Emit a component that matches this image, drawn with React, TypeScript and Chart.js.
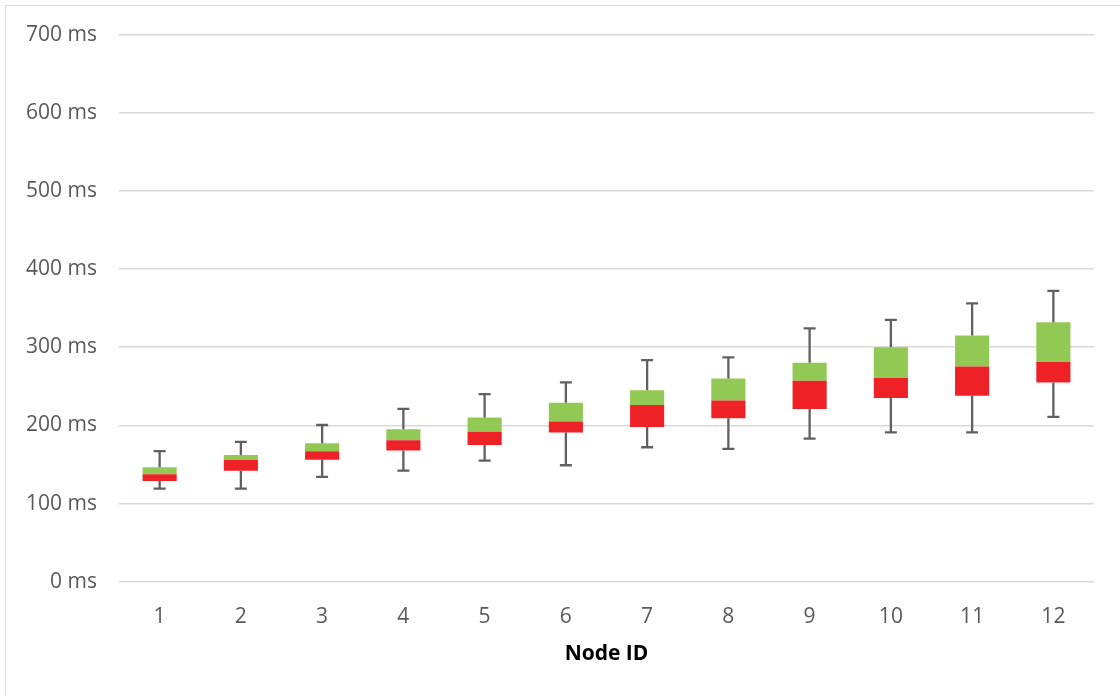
import React, { useEffect, useRef } from "react";
import { Chart, registerables } from "chart.js";

Chart.register(...registerables);

const categories = ["1", "2", "3", "4", "5", "6", "7", "8", "9", "10", "11", "12"];
const minValues = [119, 119, 134, 142, 155, 149, 172, 170, 183, 191, 191, 211];
const q1Values = [129, 142, 156, 168, 175, 191, 198, 209, 221, 235, 238, 255];
const medianValues = [137.5, 156, 167, 181, 192, 205, 226, 232, 257, 260.5, 275.5, 281];
const q3Values = [146.5, 162, 177, 195, 210, 229, 245, 260, 280, 300, 315, 332];
const maxValues = [167, 179, 200.5, 221, 240, 255, 283.5, 287, 324, 335, 356, 372];

const yTicks = [0, 100, 200, 300, 400, 500, 600, 700];
const xTitle = "Node ID";
const unit = " ms";

const whiskerPlugin = {
  id: "whiskers",
  afterDatasetsDraw(chart: any) {
    const { ctx, scales } = chart;
    const x = scales.x;
    const y = scales.y;
    ctx.save();
    ctx.strokeStyle = "#606060";
    ctx.lineWidth = 2.3;
    const cap = 6;
    categories.forEach((_, i) => {
      const cx = x.getPixelForValue(i);
      const yMin = y.getPixelForValue(minValues[i]);
      const yQ1 = y.getPixelForValue(q1Values[i]);
      const yQ3 = y.getPixelForValue(q3Values[i]);
      const yMax = y.getPixelForValue(maxValues[i]);
      ctx.beginPath();
      ctx.moveTo(cx, yQ3);
      ctx.lineTo(cx, yMax);
      ctx.moveTo(cx - cap, yMax);
      ctx.lineTo(cx + cap, yMax);
      ctx.moveTo(cx, yQ1);
      ctx.lineTo(cx, yMin);
      ctx.moveTo(cx - cap, yMin);
      ctx.lineTo(cx + cap, yMin);
      ctx.stroke();
    });
    ctx.restore();
  },
};

export default function App() {
  const canvasRef = useRef<HTMLCanvasElement | null>(null);

  useEffect(() => {
    if (!canvasRef.current) return;
    const chart = new Chart(canvasRef.current, {
      type: "bar",
      data: {
        labels: categories,
        datasets: [
          {
            label: "Q1-Median",
            data: categories.map((_, i) => [q1Values[i], medianValues[i]]) as any,
            backgroundColor: "#EE2126",
            borderWidth: 0,
            grouped: false,
            categoryPercentage: 1,
            barPercentage: 0.42,
          } as any,
          {
            label: "Median-Q3",
            data: categories.map((_, i) => [medianValues[i], q3Values[i]]) as any,
            backgroundColor: "#92C954",
            borderWidth: 0,
            grouped: false,
            categoryPercentage: 1,
            barPercentage: 0.42,
          } as any,
        ],
      },
      options: {
        animation: false,
        responsive: true,
        maintainAspectRatio: false,
        layout: { padding: { top: 33, right: 26, left: 0, bottom: 0 } },
        plugins: {
          legend: { display: false },
          tooltip: { enabled: false },
        },
        scales: {
          x: {
            grid: { display: false, drawTicks: false },
            border: { display: false },
            ticks: {
              color: "#595959",
              padding: 23,
              font: { family: "'Open Sans', sans-serif", size: 21 },
            },
            title: {
              display: true,
              text: xTitle,
              color: "#000000",
              padding: { top: 0, bottom: 29 },
              font: { family: "'Open Sans', sans-serif", size: 21, weight: "bold" },
            },
            afterFit: (scale: any) => {
              scale.height = 114.3;
            },
          },
          y: {
            min: yTicks[0],
            max: yTicks[yTicks.length - 1],
            afterBuildTicks: (scale: any) => {
              scale.ticks = yTicks.map((v) => ({ value: v }));
            },
            grid: { color: "#D9D9D9", lineWidth: 1.6, drawTicks: false },
            border: { display: false },
            ticks: {
              color: "#595959",
              padding: 22,
              font: { family: "'Open Sans', sans-serif", size: 21 },
              callback: (v: any) => `${v}${unit}`,
            },
            afterFit: (scale: any) => {
              scale.width = 119;
            },
          },
        },
      },
      plugins: [whiskerPlugin],
    });
    return () => chart.destroy();
  }, []);

  return (
    <>
      <div
        style={{
          position: "fixed",
          left: 0,
          top: 0,
          width: 1120,
          height: 696,
          background: "#ffffff",
        }}
      >
        <canvas ref={canvasRef} />
      </div>
      <div
        style={{
          position: "fixed",
          left: 5,
          top: 5,
          width: 1130,
          height: 710,
          borderLeft: "1.5px solid #D9D9D9",
          borderTop: "1.5px solid #D9D9D9",
          pointerEvents: "none",
        }}
      />
    </>
  );
}
